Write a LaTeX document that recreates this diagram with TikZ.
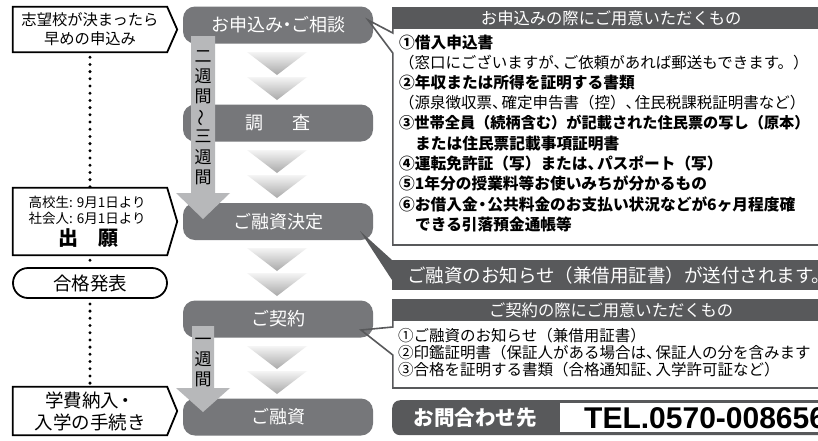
\documentclass[tikz,border=0pt]{standalone}
\usepackage{fontspec}
\usepackage{graphicx}
\setmainfont{Noto Sans CJK JP}
\newfontfamily\telfont{Liberation Sans}
\newcommand\myfs[2]{\fontsize{#1}{#2}\selectfont}
\newcommand\tc{、\kern-0.4em}
\definecolor{flowgray}{HTML}{76777A}
\definecolor{hdrgray}{HTML}{58595B}
\definecolor{arrowgray}{HTML}{B7B8BA}
\begin{document}
\begin{tikzpicture}[x=1pt,y=-1pt,
  flow/.style={fill=flowgray, rounded corners=12pt, minimum width=190pt, minimum height=37pt, inner sep=0pt, text=white, font=\myfs{18}{20}},
  lbox/.style={minimum width=154pt, inner sep=0pt, align=center},
  lborder/.style={draw=black, line width=1.8pt, line join=miter},
  dots/.style={line width=3.3pt, line cap=round, dash pattern=on 0pt off 7.2pt},
  chev/.style={top color=gray!8, bottom color=gray!68, draw=none},
  bigarrow/.style={fill=arrowgray},
  vtext/.style={align=center, inner sep=0pt, font=\myfs{17}{20.2}},
  hdr/.style={fill=hdrgray, inner sep=0pt, anchor=north west, minimum width=438pt},
  htext/.style={text=white, inner sep=0pt},
  pborder/.style={draw=hdrgray, line width=1.6pt, line join=miter},
  ptxt/.style={anchor=west, inner sep=0pt, text height=0.88em, text depth=0.12em},
  bitem/.style={ptxt, font=\bfseries\myfs{15.7}{16}},
  ritem/.style={ptxt, font=\myfs{15.5}{16}},
]
\useasboundingbox (0,0) rectangle (818,440);
\clip (0,0) rectangle (818,440);
\fill[white] (0,0) rectangle (818,440);

% ---------- left column ----------
\node[lbox, minimum height=45pt, font=\myfs{15.3}{19}] (b1) at (90,29.5) {志望校が決まったら\\早めの申込み};
\draw[lborder] (b1.north west) -- (b1.north east) -- ([xshift=10pt]b1.east) -- (b1.south east) -- (b1.south west) -- cycle;

\node[lbox, minimum height=67pt] (b2) at (90,221.5) {};
\draw[lborder] (b2.north west) -- (b2.north east) -- ([xshift=10pt]b2.east) -- (b2.south east) -- (b2.south west) -- cycle;
\node[inner sep=0pt, font=\myfs{13.5}{15}] (b2a) at (87,202) {高校生: 9月1日より};
\node[inner sep=0pt, font=\myfs{13.5}{15}] (b2b) at (87,218) {社会人: 6月1日より};
\node[inner sep=0pt, font=\bfseries\myfs{20}{22}] (b2c) at (88,238) {出　願};

\node[draw=black, line width=1.8pt, rounded corners=15pt, minimum width=154pt, minimum height=30pt, inner sep=0pt, font=\myfs{18.5}{20}] (b4) at (90,283) {合格発表};

\node[lbox, minimum height=48pt, font=\myfs{18.5}{22}] (b3) at (90,411) {学費納入\kern-3pt・\\入学の手続き};
\draw[lborder] (b3.north west) -- (b3.north east) -- ([xshift=10pt]b3.east) -- (b3.south east) -- (b3.south west) -- cycle;

\draw[dots] ([yshift=-5pt]b1.south) -- (b2.north);
\draw[dots] ([yshift=-5pt]b2.south) -- (b4.north);
\draw[dots] ([yshift=-5pt]b4.south) -- (b3.north);

% ---------- flow column ----------
\foreach \t in {52,77,150,175,248,273,346,371}
  \shade[chev] (247,\t) -- (307,\t) -- (277,\t+23) -- cycle;

\node[flow] (f1) at (278,25) {お申込み\kern-5pt・\kern-5pt ご相談};
\node[flow] (f2) at (278,123) {調\hspace{30pt}査};
\node[flow] (f3) at (278,221.5) {ご融資決定};
\node[flow] (f4) at (278,319) {ご契約};
\node[flow] (f5) at (278,417) {ご融資};

% ---------- panel 1 ----------
\node[hdr, minimum height=22pt] (h1) at (392,7) {};
\node[htext, font=\myfs{16.3}{18}] (h1t) at (h1.center) {お申込みの際にご用意いただくもの};
\coordinate (p1tip) at (368,20);
\draw[pborder] (392.8,29) -- (392.8,33) -- (p1tip) -- (392.8,53) -- (392.8,245) -- (830,245);
\node[bitem] (l1) at (399,45) {①借入申込書};
\node[ritem] (l2) at (399,65) {（窓口にございますが\tc ご依頼があれば郵送もできます。）};
\node[bitem] (l3) at (399,85) {②年収または所得を証明する書類};
\node[ritem] (l4) at (399,105) {（源泉徴収票\tc 確定申告書（控）\tc 住民税課税証明書など）};
\node[bitem, font=\bfseries\myfs{15.2}{16}] (l5) at (399,125) {③世帯全員（続柄含む）が記載された住民票の写し（原本）};
\node[bitem] (l6) at (415,146) {または住民票記載事項証明書};
\node[bitem] (l7) at (399,166) {④運転免許証（写）または\tc パスポート（写）};
\node[bitem] (l8) at (399,186) {⑤1年分の授業料等お使いみちが分かるもの};
\node[bitem] (l9) at (399,207) {⑥お借入金\kern-3pt・\kern-3pt 公共料金のお支払い状況などが6ヶ月程度確};
\node[bitem] (l10) at (415,227) {できる引落預金通帳等};

% ---------- panel 2 ----------
\node[hdr, minimum height=30pt] (h2) at (392,260) {};
\coordinate (p2tip) at (360,231);
\fill[hdrgray] (p2tip) -- (h2.north west) -- ([yshift=-20pt]h2.north west) -- cycle;
\node[htext, anchor=west, font=\myfs{18.5}{20}] (h2t) at (407,275) {ご融資のお知らせ（兼借用証書）が送付されます。};

% ---------- panel 3 ----------
\node[hdr, minimum height=22pt] (h3) at (392,299) {};
\node[htext, font=\myfs{16.3}{18}] (h3t) at (h3.center) {ご契約の際にご用意いただくもの};
\coordinate (p3tip) at (361,330);
\draw[pborder] (392.8,321) -- (392.8,327) -- (p3tip) -- (392.8,355) -- (392.8,388) -- (830,388);
\node[ritem] (m1) at (398,338) {①ご融資のお知らせ（兼借用証書）};
\node[ritem] (m2) at (398,355) {②印鑑証明書（保証人がある場合は\tc 保証人の分を含みます};
\node[ritem] (m3) at (398,372) {③合格を証明する書類（合格通知証\tc 入学許可証など）};

% ---------- panel 4 ----------
\node[fill=hdrgray, rounded corners=8pt, anchor=north west, minimum width=450pt, minimum height=35pt, inner sep=0pt] (h4) at (392,400) {};
\node[htext, font=\bfseries\myfs{20.5}{22}] (h4t) at (475,417.5) {お問合わせ先};
\node[fill=white, anchor=north west, minimum width=280pt, minimum height=29pt, inner sep=0pt] (telbox) at (560,403) {};
\node[anchor=base west, inner sep=0pt, font=\telfont\bfseries\myfs{30}{30}] (tel) at (584,428.5) {TEL.0570-008656};

% ---------- duration arrows ----------
\fill[bigarrow] (191,36) -- (215,36) -- (215,193) -- (230,193) -- (203,219) -- (176,193) -- (191,193) -- cycle;
\node[vtext] (a1t) at (203,117.5) {二\\週\\間\\\rotatebox[origin=c]{90}{～}\\三\\週\\間};
\fill[bigarrow] (192,326) -- (214,326) -- (214,388) -- (230,388) -- (203,412) -- (176,388) -- (192,388) -- cycle;
\node[vtext] (a2t) at (203,362.5) {一\\週\\間};
\end{tikzpicture}
\end{document}
